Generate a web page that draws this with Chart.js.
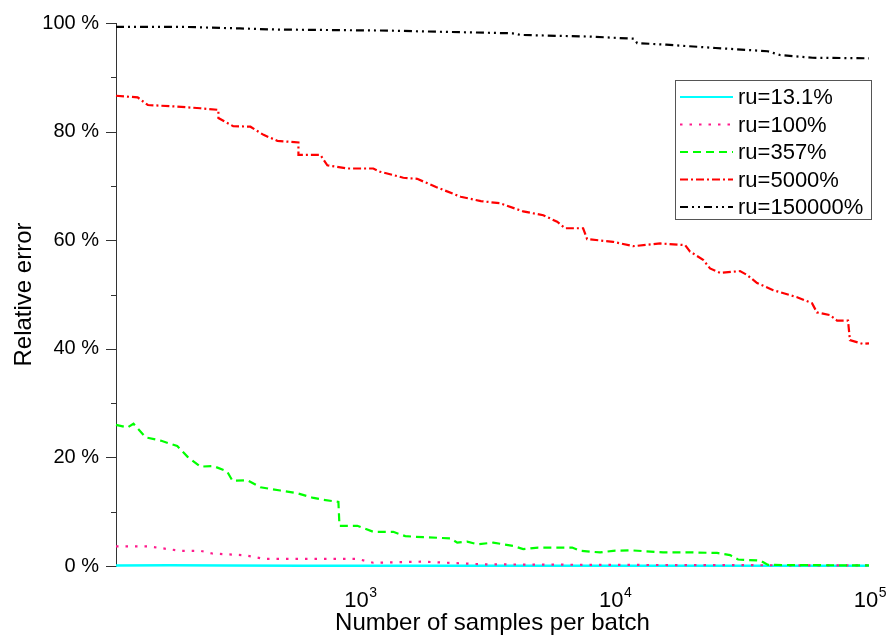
<!DOCTYPE html>
<html><head><meta charset="utf-8">
<script src="https://cdn.jsdelivr.net/npm/chart.js@4.4.0/dist/chart.umd.min.js"></script>
<style>html,body{margin:0;padding:0;background:#fff;}#wrap{width:889px;height:638px;}</style>
</head><body><div id="wrap"><canvas id="c" width="889" height="638"></canvas></div>
<script>
const seriesNames = ['ru=13.1%', 'ru=100%', 'ru=357%', 'ru=5000%', 'ru=150000%'];

const samplesA = [111, 180, 300, 600, 1000, 2000, 5000, 10000, 30000, 100000];
const errorA   = [0.1, 0.15, 0.1, 0.05, 0.05, 0.05, 0.05, 0.05, 0.05, 0.05];

const samplesB = [111, 123, 149, 199, 238, 265, 351, 384, 421, 982, 1135, 1782, 3064, 10000, 100000];
const errorB   = [3.6, 3.6, 3.6, 2.8, 2.8, 2.3, 2.0, 1.7, 1.3, 1.3, 0.6, 0.8, 0.3, 0.2, 0.1];

const samplesC = [111, 123, 130, 145, 166, 193, 212, 238, 268, 303, 318, 364, 409, 490, 571, 654, 723, 828, 836, 982, 1135, 1359, 1515, 1782, 2274, 2423, 2652, 2904, 3352, 4016, 4396, 5034, 6845, 7357, 8810, 9908, 11550, 15560, 20410, 25340, 28510, 30630, 37400, 40190, 100000];
const errorC   = [26.0, 25.5, 26.2, 23.7, 23.1, 22.1, 20.1, 18.3, 18.4, 17.4, 15.7, 15.8, 14.5, 13.9, 13.4, 12.6, 12.2, 11.8, 7.4, 7.4, 6.3, 6.3, 5.5, 5.3, 5.1, 4.3, 4.5, 4.0, 4.3, 3.7, 3.1, 3.4, 3.4, 2.8, 2.5, 2.8, 2.9, 2.5, 2.5, 2.4, 2.0, 1.2, 1.0, 0.2, 0.1];

const samplesD = [111, 135, 148, 193, 238, 280, 280, 320, 374, 421, 477, 577, 577, 704, 749, 898, 1135, 1208, 1359, 1488, 1687, 2000, 2500, 3000, 3572, 4396, 5271, 5975, 6422, 7557, 7834, 9908, 11880, 15150, 18980, 19860, 22340, 23780, 26040, 31180, 33240, 36380, 42070, 52220, 59750, 62480, 70310, 74920, 82720, 84180, 94670, 100000];
const errorD   = [86.6, 86.3, 84.9, 84.6, 84.3, 84.0, 82.5, 81.0, 80.9, 79.4, 78.3, 78.0, 75.7, 75.7, 73.8, 73.2, 73.2, 72.6, 72.0, 71.5, 71.3, 69.8, 68.0, 67.2, 66.8, 65.3, 64.6, 63.4, 62.2, 62.2, 60.2, 59.7, 58.9, 59.4, 59.1, 57.9, 56.4, 54.8, 54.0, 54.3, 53.6, 52.1, 50.8, 49.5, 48.4, 46.7, 46.2, 45.2, 45.2, 41.6, 40.9, 41.0];

const samplesE = [111, 200, 340, 470, 1300, 2000, 3200, 4000, 4300, 8000, 12000, 12310, 16000, 25000, 40000, 44790, 60000, 100000];
const errorE   = [99.3, 99.3, 99.0, 98.8, 98.6, 98.4, 98.2, 98.1, 97.8, 97.5, 97.1, 96.3, 96.0, 95.4, 94.8, 94.1, 93.6, 93.5];

const xTickValues = [1000, 10000, 100000];
const xTickBase = '10';
const xTickExponents = ['3', '4', '5'];
const yMajorTicks = [0, 20, 40, 60, 80, 100];
const yMinorTicks = [10, 30, 50, 70, 90];

const colors = ['#00ffff', '#ff1a8c', '#00ff00', '#ff0000', '#000000'];
const dashes = [[], [2.5, 7], [8, 5], [8, 3, 2, 3], [8, 4, 2, 4, 2, 4]];
const xs = [samplesA, samplesB, samplesC, samplesD, samplesE];
const ys = [errorA, errorB, errorC, errorD, errorE];

const datasets = seriesNames.map((n, i) => ({
  label: n,
  data: xs[i].map((x, k) => ({x: x, y: ys[i][k]})),
  borderColor: colors[i],
  backgroundColor: colors[i],
  borderWidth: i === 0 ? 2.4 : 2.2,
  borderDash: dashes[i],
  pointRadius: 0,
  tension: 0,
  fill: false,
  clip: 4
})).reverse();

const FONT = "'Liberation Sans', Arial, sans-serif";

const axisMarksPlugin = {
  id: 'axisMarks',
  afterDraw(chart) {
    const y = chart.scales.y, x = chart.scales.x, ctx = chart.ctx, left = chart.chartArea.left;
    ctx.save();
    ctx.strokeStyle = '#333';
    ctx.lineWidth = 1;
    ctx.beginPath();
    yMajorTicks.forEach(v => { const p = Math.round(y.getPixelForValue(v)) + 0.5; ctx.moveTo(left - 10, p); ctx.lineTo(left, p); });
    yMinorTicks.forEach(v => { const p = Math.round(y.getPixelForValue(v)) + 0.5; ctx.moveTo(left - 5, p); ctx.lineTo(left, p); });
    ctx.stroke();
    // x tick labels with superscript exponents
    ctx.fillStyle = '#000';
    ctx.textBaseline = 'alphabetic';
    ctx.textAlign = 'left';
    const baseY = chart.chartArea.bottom + 41;
    xTickValues.forEach((v, i) => {
      const px = x.getPixelForValue(v);
      ctx.font = '22px ' + FONT;
      const wb = ctx.measureText(xTickBase).width;
      ctx.font = '14px ' + FONT;
      const we = ctx.measureText(xTickExponents[i]).width;
      const start = px - (wb + we) / 2 + 1;
      ctx.font = '22px ' + FONT;
      ctx.fillText(xTickBase, start, baseY);
      ctx.font = '14px ' + FONT;
      ctx.fillText(xTickExponents[i], start + wb + 0.5, baseY - 10);
    });
    ctx.restore();
  }
};

const legendPlugin = {
  id: 'boxLegend',
  afterDraw(chart) {
    const ctx = chart.ctx;
    const bx = 675.5, by = 80.5, bw = 196, bh = 139;
    ctx.save();
    ctx.fillStyle = '#fff';
    ctx.fillRect(bx, by, bw, bh);
    ctx.strokeStyle = '#555';
    ctx.lineWidth = 1;
    ctx.strokeRect(bx, by, bw, bh);
    ctx.font = '22px ' + FONT;
    ctx.textBaseline = 'middle';
    ctx.textAlign = 'left';
    seriesNames.forEach((n, i) => {
      const ry = 97 + i * 27.5;
      ctx.save();
      ctx.strokeStyle = colors[i];
      ctx.lineWidth = 2.2;
      ctx.setLineDash(dashes[i]);
      ctx.beginPath();
      ctx.moveTo(680, ry);
      ctx.lineTo(733, ry);
      ctx.stroke();
      ctx.restore();
      ctx.fillStyle = '#000';
      ctx.fillText(n, 738, ry + 1);
    });
    ctx.restore();
  }
};

new Chart(document.getElementById('c'), {
  type: 'line',
  data: {datasets: datasets},
  plugins: [axisMarksPlugin, legendPlugin],
  options: {
    responsive: false,
    animation: false,
    devicePixelRatio: 1,
    layout: {padding: {left: 0, top: 23, right: 20, bottom: 0}},
    plugins: {legend: {display: false}, tooltip: {enabled: false}},
    scales: {
      x: {
        type: 'logarithmic',
        min: 111,
        max: 100000,
        grid: {display: false, drawTicks: false},
        border: {display: false},
        afterBuildTicks(scale) { scale.ticks = xTickValues.map(v => ({value: v})); },
        afterFit(scale) { scale.height = 72; scale.paddingLeft = 0; scale.paddingRight = 0; },
        ticks: {display: false},
        title: {display: true, text: 'Number of samples per batch', color: '#000', font: {family: FONT, size: 24}, padding: {top: 0, bottom: 0}}
      },
      y: {
        type: 'linear',
        min: 0,
        max: 100,
        grid: {display: false, drawTicks: false},
        border: {display: true, color: '#333', width: 1},
        afterBuildTicks(scale) { scale.ticks = yMajorTicks.map(v => ({value: v})); },
        afterFit(scale) { scale.width = 116; scale.paddingTop = 0; scale.paddingBottom = 0; },
        ticks: {
          autoSkip: false, padding: 17,
          color: '#000',
          font: {family: FONT, size: 20},
          callback(v) { return v + ' %'; }
        },
        title: {display: true, text: 'Relative error', color: '#000', font: {family: FONT, size: 24}, padding: {top: 10, bottom: 0}}
      }
    }
  }
});
</script>
</body></html>
